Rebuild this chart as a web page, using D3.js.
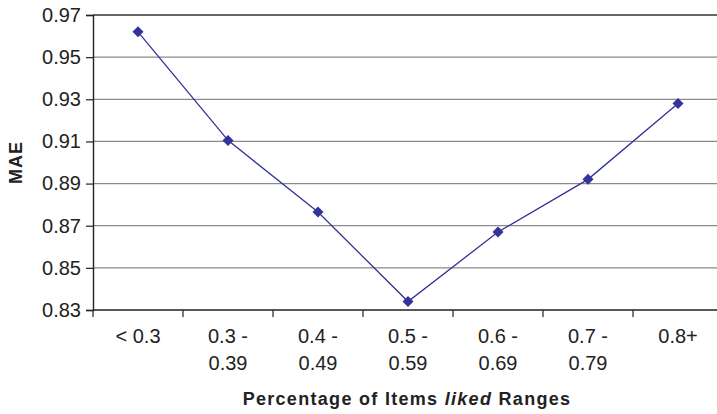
<!DOCTYPE html>
<html>
<head>
<meta charset="utf-8">
<title>MAE by liked range</title>
<style>
  body { margin: 0; background: #fff; }
  text { font-family: 'Liberation Sans', Arial, sans-serif; fill: #222; }
</style>
<script src="https://d3js.org/d3.v7.min.js"></script>
</head>
<body>
<div id="chart"></div>
<script>
// ******* Data *******
const categories = [["< 0.3"], ["0.3 -", "0.39"], ["0.4 -", "0.49"], ["0.5 -", "0.59"],
                    ["0.6 -", "0.69"], ["0.7 -", "0.79"], ["0.8+"]];
const maeValues = [0.962, 0.9105, 0.8765, 0.834, 0.867, 0.892, 0.928];
const yTicks = [0.83, 0.85, 0.87, 0.89, 0.91, 0.93, 0.95, 0.97];

const width = 717, height = 414;
const margin = {left: 93, top: 15, right: -6, bottom: 104};

const svg = d3.select("#chart").append("svg")
    .attr("width", width)
    .attr("height", height);

// ******* Scales *******
const x = d3.scaleBand()
    .domain(d3.range(categories.length))
    .range([margin.left, width - margin.right]);
const y = d3.scaleLinear()
    .domain([0.83, 0.97])
    .range([height - margin.bottom, margin.top]);

// gridlines
svg.append("g")
  .selectAll("line")
  .data(yTicks.slice(1, -1))
  .join("line")
    .attr("x1", margin.left).attr("x2", width)
    .attr("y1", d => y(d)).attr("y2", d => y(d))
    .attr("stroke", "#8a8a8a")
    .attr("stroke-width", 1.2);

// top border (darker)
svg.append("line")
    .attr("x1", margin.left).attr("x2", width)
    .attr("y1", y(0.97)).attr("y2", y(0.97))
    .attr("stroke", "#333").attr("stroke-width", 1.4);

// ******* Y axis *******
const yAxis = svg.append("g")
    .attr("transform", `translate(${margin.left},0)`)
    .call(d3.axisLeft(y).tickValues(yTicks).tickFormat(d3.format(".2f")).tickSizeOuter(0).tickSize(7).tickPadding(5));
yAxis.select(".domain").attr("stroke", "#222").attr("stroke-width", 1.4);
yAxis.selectAll(".tick line").attr("stroke", "#222").attr("stroke-width", 1.2);
yAxis.selectAll(".tick text").attr("font-size", 20).attr("fill", "#222")
    .attr("font-family", "'Liberation Sans', Arial, sans-serif");

// ******* X axis *******
const xAxis = svg.append("g")
    .attr("transform", `translate(0,${y(0.83)})`);
xAxis.append("line")
    .attr("x1", margin.left).attr("x2", width)
    .attr("stroke", "#222").attr("stroke-width", 1.4);
xAxis.selectAll(".xtick")
  .data(d3.range(categories.length + 1))
  .join("line")
    .attr("class", "xtick")
    .attr("x1", d => margin.left + d * x.step())
    .attr("x2", d => margin.left + d * x.step())
    .attr("y1", 0).attr("y2", 7)
    .attr("stroke", "#222").attr("stroke-width", 1.2);
const xl = xAxis.selectAll(".xlabel")
  .data(categories)
  .join("text")
    .attr("class", "xlabel")
    .attr("text-anchor", "middle")
    .attr("font-size", 20)
    .attr("transform", (d, i) => `translate(${x(i) + x.bandwidth() / 2},33)`);
xl.selectAll("tspan")
  .data(d => d)
  .join("tspan")
    .attr("x", 0)
    .attr("dy", (d, i) => i === 0 ? 0 : 27)
    .text(d => d);

// ******* Axis titles *******
svg.append("text")
    .attr("x", 407).attr("y", 405)
    .attr("text-anchor", "middle")
    .attr("font-size", 18).attr("font-weight", "bold")
    .attr("letter-spacing", 1.3)
    .call(t => {
      t.append("tspan").text("Percentage of Items ");
      t.append("tspan").attr("font-style", "italic").text("liked");
      t.append("tspan").text(" Ranges");
    });

svg.append("text")
    .attr("transform", `translate(22,${(margin.top + y(0.83)) / 2}) rotate(-90)`)
    .attr("text-anchor", "middle")
    .attr("font-size", 18).attr("font-weight", "bold")
    .attr("letter-spacing", 1)
    .text("MAE");

// ******* Series *******
const cx = i => x(i) + x.bandwidth() / 2;
svg.append("path")
    .datum(maeValues)
    .attr("fill", "none")
    .attr("stroke", "#333399")
    .attr("stroke-width", 1.3)
    .attr("d", d3.line().x((d, i) => cx(i)).y(d => y(d)));

svg.selectAll(".pt")
  .data(maeValues)
  .join("path")
    .attr("class", "pt")
    .attr("transform", (d, i) => `translate(${cx(i)},${y(d)})`)
    .attr("d", "M0,-5.5L5.5,0L0,5.5L-5.5,0Z")
    .attr("fill", "#333399");
</script>
</body>
</html>
